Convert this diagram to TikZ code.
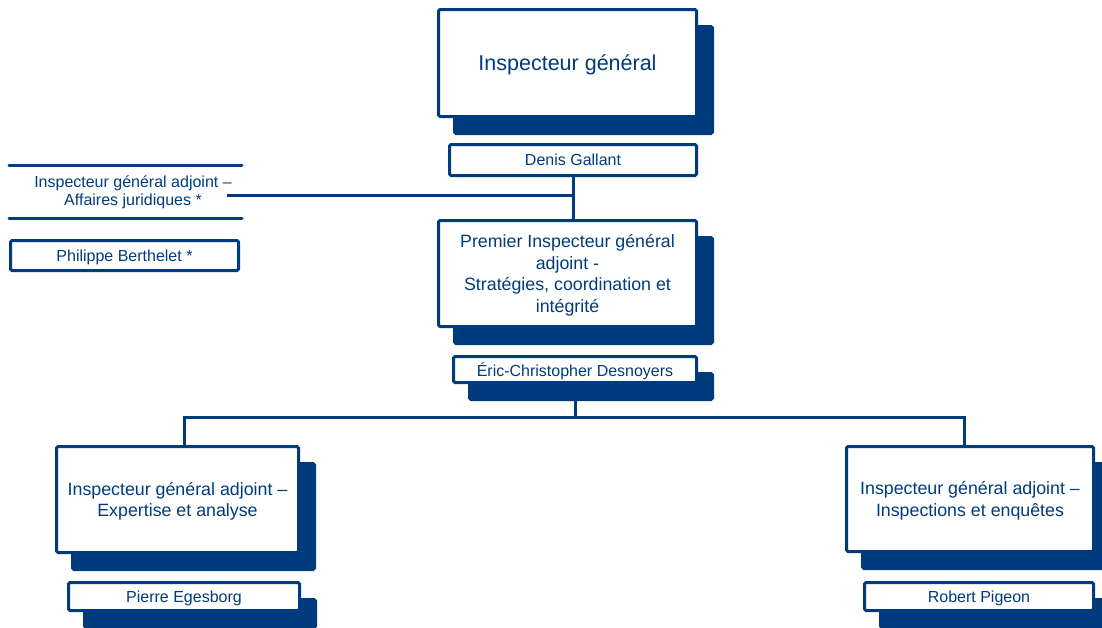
\documentclass[tikz,border=0pt]{standalone}
\usepackage{fontspec}
\setmainfont{Liberation Sans}
\usetikzlibrary{shadows}
\definecolor{ibleu}{RGB}{0,60,125}
\tikzset{
    box/.style = {draw=ibleu, fill=white, line width=3pt, rounded corners=1.5pt, text=ibleu, align=center, inner sep=0pt, text depth=0pt},
    shadowed/.style = {box, drop shadow={shadow xshift=16pt, shadow yshift=-17pt, fill=ibleu, draw=ibleu, line width=3pt, opacity=1}},
    namebox/.style = {font=\fontsize{16}{19}\selectfont},
    titlebox/.style = {font=\fontsize{17.8}{21.5}\selectfont},
    link/.style = {draw=ibleu, line width=3pt},
    rule/.style = {draw=ibleu, line width=3pt, line cap=round}
}
\begin{document}
\begin{tikzpicture}[x=1pt, y=-1pt]
    \useasboundingbox (0,0) rectangle (1102,627);

    % Nodes
    \node[shadowed, minimum width=258pt, minimum height=107pt, font=\fontsize{21.5}{26}\selectfont] (ig) at (567.5,63) {Inspecteur général};
    \node[box, namebox, minimum width=247pt, minimum height=31pt] (dg) at (573,160) {Denis Gallant};
    \node[shadowed, titlebox, minimum width=258pt, minimum height=106pt] (pig) at (567.5,273.5) {Premier Inspecteur général\\adjoint -\\Stratégies, coordination et\\intégrité};
    \node[shadowed, namebox, minimum width=243pt, minimum height=26pt] (ecd) at (575,369.5) {Éric-Christopher Desnoyers};
    \node[shadowed, titlebox, minimum width=242pt, minimum height=106pt] (igea) at (177.5,499.5) {Inspecteur général adjoint –\\Expertise et analyse};
    \node[shadowed, namebox, minimum width=231pt, minimum height=28pt] (pe) at (184,596.5) {Pierre Egesborg};
    \node[shadowed, titlebox, minimum width=247pt, minimum height=105pt] (igie) at (970,499) {Inspecteur général adjoint –\\Inspections et enquêtes};
    \node[shadowed, namebox, minimum width=229pt, minimum height=28pt] (rp) at (979,596.5) {Robert Pigeon};

    % Affaires juridiques
    \node[text=ibleu, align=center, font=\fontsize{16}{18}\selectfont] (igaj) at (133,192) {Inspecteur général adjoint –\\Affaires juridiques *};
    \draw[rule] (9,165) -- (242,165);
    \draw[rule] (9,218) -- (242,218);
    \node[box, namebox, minimum width=228pt, minimum height=30pt] (pb) at (124.5,255.5) {Philippe Berthelet *};

    % Connectors
    \coordinate (aj) at (227,195);
    \coordinate (dl) at (184,417);
    \coordinate (dr) at (964,417);
    \draw[link] (dg.south) -- (dg.south |- pig.north);
    \draw[link] (aj) -- (aj -| dg.south);
    \draw[link] (ecd.south) -- (ecd.south |- dl);
    \draw[link] (dl |- igea.north) -- (dl) -- (dr) -- (dr |- igie.north);
\end{tikzpicture}
\end{document}
